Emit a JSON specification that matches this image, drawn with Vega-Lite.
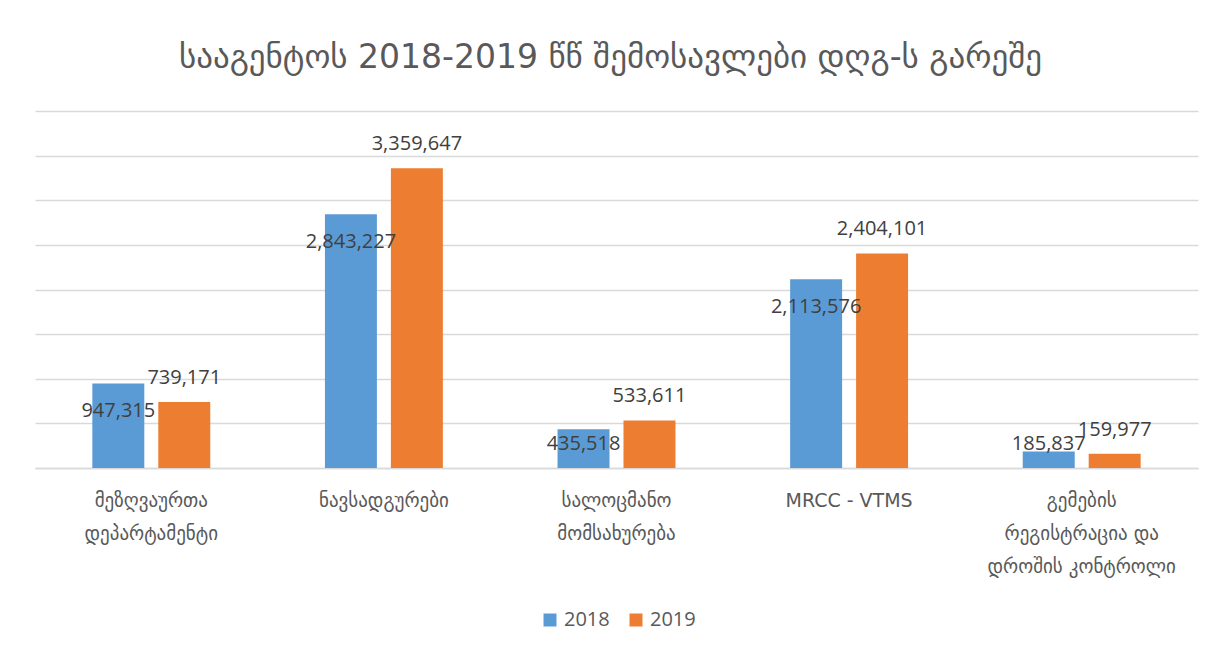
{
  "$schema": "https://vega.github.io/schema/vega-lite/v6.json",
  "width": 1163,
  "height": 357,
  "autosize": {"type": "none"},
  "padding": {"left": 35, "top": 111, "right": 23, "bottom": 181},
  "background": "white",
  "config": {"view": {"stroke": null}, "font": "DejaVu Sans"},
  "title": {
    "text": "სააგენტოს 2018-2019 წწ შემოსავლები დღგ-ს გარეშე",
    "fontSize": 33,
    "font": "DejaVu Sans",
    "fontWeight": "normal",
    "color": "#595959",
    "anchor": "middle",
    "baseline": "middle",
    "offset": 20,
    "dx": -6
  },
  "data": {
    "values": [
      {"category": "მეზღვაურთა დეპარტამენტი", "year": "2018", "value": 947315},
      {"category": "მეზღვაურთა დეპარტამენტი", "year": "2019", "value": 739171},
      {"category": "ნავსადგურები", "year": "2018", "value": 2843227},
      {"category": "ნავსადგურები", "year": "2019", "value": 3359647},
      {"category": "სალოცმანო მომსახურება", "year": "2018", "value": 435518},
      {"category": "სალოცმანო მომსახურება", "year": "2019", "value": 533611},
      {"category": "MRCC - VTMS", "year": "2018", "value": 2113576},
      {"category": "MRCC - VTMS", "year": "2019", "value": 2404101},
      {"category": "გემების რეგისტრაცია და დროშის კონტროლი", "year": "2018", "value": 185837},
      {"category": "გემების რეგისტრაცია და დროშის კონტროლი", "year": "2019", "value": 159977}
    ]
  },
  "encoding": {
    "x": {
      "field": "category",
      "type": "nominal",
      "sort": null,
      "scale": {"paddingInner": 0.493, "paddingOuter": 0.2465},
      "axis": {
        "title": null,
        "labelAngle": 0,
        "ticks": false,
        "domainColor": "#d9d9d9",
        "domainWidth": 1.5,
        "labelFont": "DejaVu Sans",
        "labelFontSize": 19,
        "labelColor": "#595959",
        "labelPadding": 23,
        "labelBaseline": "top",
        "labelLineHeight": 33,
        "labelLimit": 300,
        "labelExpr": "datum.value == 'MRCC - VTMS' ? datum.value : (indexof(datum.value, 'გემების') == 0 ? ['გემების', 'რეგისტრაცია და', 'დროშის კონტროლი'] : split(datum.value, ' '))"
      }
    },
    "xOffset": {
      "field": "year",
      "type": "nominal",
      "scale": {"paddingInner": 0.212, "paddingOuter": 0}
    },
    "y": {
      "field": "value",
      "type": "quantitative",
      "scale": {"domain": [0, 4000000], "nice": false},
      "axis": {
        "title": null,
        "labels": false,
        "ticks": false,
        "domain": false,
        "grid": true,
        "gridColor": "#d9d9d9",
        "gridWidth": 1.5,
        "values": [0, 500000, 1000000, 1500000, 2000000, 2500000, 3000000, 3500000, 4000000]
      }
    }
  },
  "layer": [
    {
      "mark": {"type": "bar"},
      "encoding": {
        "color": {
          "field": "year",
          "type": "nominal",
          "scale": {"domain": ["2018", "2019"], "range": ["#5B9BD5", "#ED7D31"]},
          "legend": {
            "title": null,
            "orient": "none",
            "direction": "horizontal",
            "legendX": 505,
            "legendY": 499,
            "padding": 0,
            "symbolType": "square",
            "symbolSize": 169,
            "symbolStrokeWidth": 0,
            "labelFont": "Open Sans",
            "labelFontSize": 20,
            "labelColor": "#595959",
            "labelOffset": 4,
            "columnPadding": 16
          }
        }
      }
    },
    {
      "transform": [{"filter": "datum.year == '2019'"}],
      "mark": {"type": "text", "font": "Open Sans", "fontSize": 20, "color": "#404040", "baseline": "middle", "dy": -24},
      "encoding": {"text": {"field": "value", "type": "quantitative", "format": ","}}
    },
    {
      "transform": [{"filter": "datum.year == '2018' && datum.value > 600000"}],
      "mark": {"type": "text", "font": "Open Sans", "fontSize": 20, "color": "#404040", "baseline": "middle", "dy": 28},
      "encoding": {"text": {"field": "value", "type": "quantitative", "format": ","}}
    },
    {
      "transform": [{"filter": "datum.year == '2018' && datum.value < 600000"}],
      "mark": {"type": "text", "font": "Open Sans", "fontSize": 20, "color": "#404040", "baseline": "middle"},
      "encoding": {
        "text": {"field": "value", "type": "quantitative", "format": ","},
        "y": {"datum": 269000, "type": "quantitative"}
      }
    }
  ]
}
